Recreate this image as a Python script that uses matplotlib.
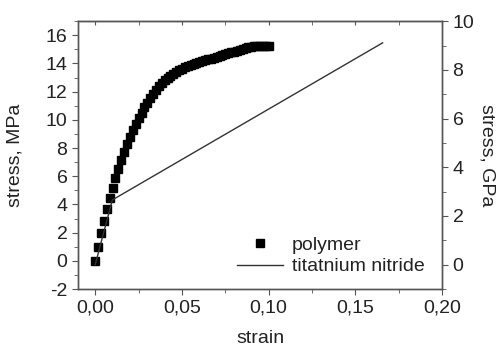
import matplotlib
matplotlib.use("Agg")
import matplotlib.pyplot as plt  # noqa: E402
from matplotlib.ticker import MultipleLocator, FuncFormatter  # noqa: E402

# polymer: strain vs stress (MPa), left axis
polymer_strain = [
    0.0000, 0.0017, 0.0033, 0.0050, 0.0067, 0.0083, 0.0100, 0.0117,
    0.0133, 0.0150, 0.0167, 0.0183, 0.0200, 0.0217, 0.0233, 0.0250,
    0.0267, 0.0283, 0.0300, 0.0317, 0.0333, 0.0350, 0.0367, 0.0383,
    0.0400, 0.0417, 0.0433, 0.0450, 0.0467, 0.0483, 0.0500, 0.0517,
    0.0533, 0.0550, 0.0567, 0.0583, 0.0600, 0.0617, 0.0633, 0.0650,
    0.0667, 0.0683, 0.0700, 0.0717, 0.0733, 0.0750, 0.0767, 0.0783,
    0.0800, 0.0817, 0.0833, 0.0850, 0.0867, 0.0883, 0.0900, 0.0917,
    0.0933, 0.0950, 0.0967, 0.0983, 0.1000,
]
polymer_stress = [
    0.00, 1.00, 1.95, 2.85, 3.70, 4.45, 5.18, 5.85,
    6.50, 7.12, 7.72, 8.27, 8.80, 9.28, 9.72, 10.12,
    10.50, 10.88, 11.22, 11.55, 11.85, 12.12, 12.37, 12.60,
    12.80, 12.97, 13.13, 13.27, 13.40, 13.52, 13.62, 13.72,
    13.81, 13.89, 13.97, 14.04, 14.10, 14.17, 14.23, 14.29,
    14.35, 14.41, 14.47, 14.53, 14.59, 14.65, 14.71, 14.78,
    14.84, 14.90, 14.96, 15.02, 15.08, 15.14, 15.19, 15.22,
    15.24, 15.25, 15.26, 15.26, 15.27,
]

# titanium nitride: strain vs stress (GPa), right axis
tin_strain = [0.0, 0.0099, 0.1657]
tin_stress = [0.0, 2.66, 9.11]

spine_color = "#555555"
text_color = "#222222"

plt.rcParams["font.family"] = ["Liberation Sans", "DejaVu Sans"]
plt.rcParams["font.size"] = 14
plt.rcParams["axes.unicode_minus"] = False


def comma_fmt(v, pos):
    return f"{v:.2f}".replace(".", ",")


fig = plt.figure(figsize=(4.99, 3.47), dpi=100)
ax = fig.add_axes([0.156, 0.167, 0.730, 0.772])
ax2 = ax.twinx()

p1, = ax.plot(polymer_strain, polymer_stress, linestyle="none", marker="s",
              markersize=6.3, color="black", label="polymer")
p2, = ax2.plot(tin_strain, tin_stress, color="#333333", linewidth=1.0,
               label="titatnium nitride")

ax.set_xlim(-0.01, 0.20)
ax.set_ylim(-2, 17)
ax2.set_ylim(-1, 10)

ax.xaxis.set_major_locator(MultipleLocator(0.05))
ax.xaxis.set_minor_locator(MultipleLocator(0.025))
ax.xaxis.set_major_formatter(FuncFormatter(comma_fmt))
ax.yaxis.set_major_locator(MultipleLocator(2))
ax.yaxis.set_minor_locator(MultipleLocator(1))
ax2.yaxis.set_major_locator(MultipleLocator(2))
ax2.yaxis.set_minor_locator(MultipleLocator(1))

for a in (ax, ax2):
    for s in a.spines.values():
        s.set_color(spine_color)
        s.set_linewidth(1.0)

ax.tick_params(which="both", direction="out", colors=spine_color,
               labelcolor=text_color, top=False)
ax.tick_params(which="major", length=4)
ax.tick_params(which="minor", length=3)
ax2.tick_params(which="both", direction="out", colors=spine_color,
                labelcolor=text_color)
ax2.tick_params(which="major", length=4)
ax2.tick_params(which="minor", length=3)

top = ax.secondary_xaxis("top")
top.xaxis.set_major_locator(MultipleLocator(0.05))
top.xaxis.set_minor_locator(MultipleLocator(0.025))
top.tick_params(which="both", direction="in", length=3, colors=spine_color,
                labeltop=False)
top.spines["top"].set_color(spine_color)

ax.set_xlabel("strain", color=text_color, va="center")
ax.xaxis.set_label_coords(0.5, -0.183)
ax.set_ylabel("stress, MPa", color=text_color, va="center")
ax.yaxis.set_label_coords(-0.173, 0.5)
ax2.set_ylabel("stress, GPa", color=text_color, rotation=270,
               va="center", ha="center")
ax2.yaxis.set_label_coords(1.124, 0.5)

ax2.legend([p1, p2], ["polymer", "titatnium nitride"], loc="lower right",
           frameon=False, handlelength=2.4, handletextpad=0.45,
           borderaxespad=0.3, labelspacing=0.2, fontsize=14,
           labelcolor=text_color, bbox_to_anchor=(0.99, 0.0))

fig.savefig("out.png", dpi=100)
